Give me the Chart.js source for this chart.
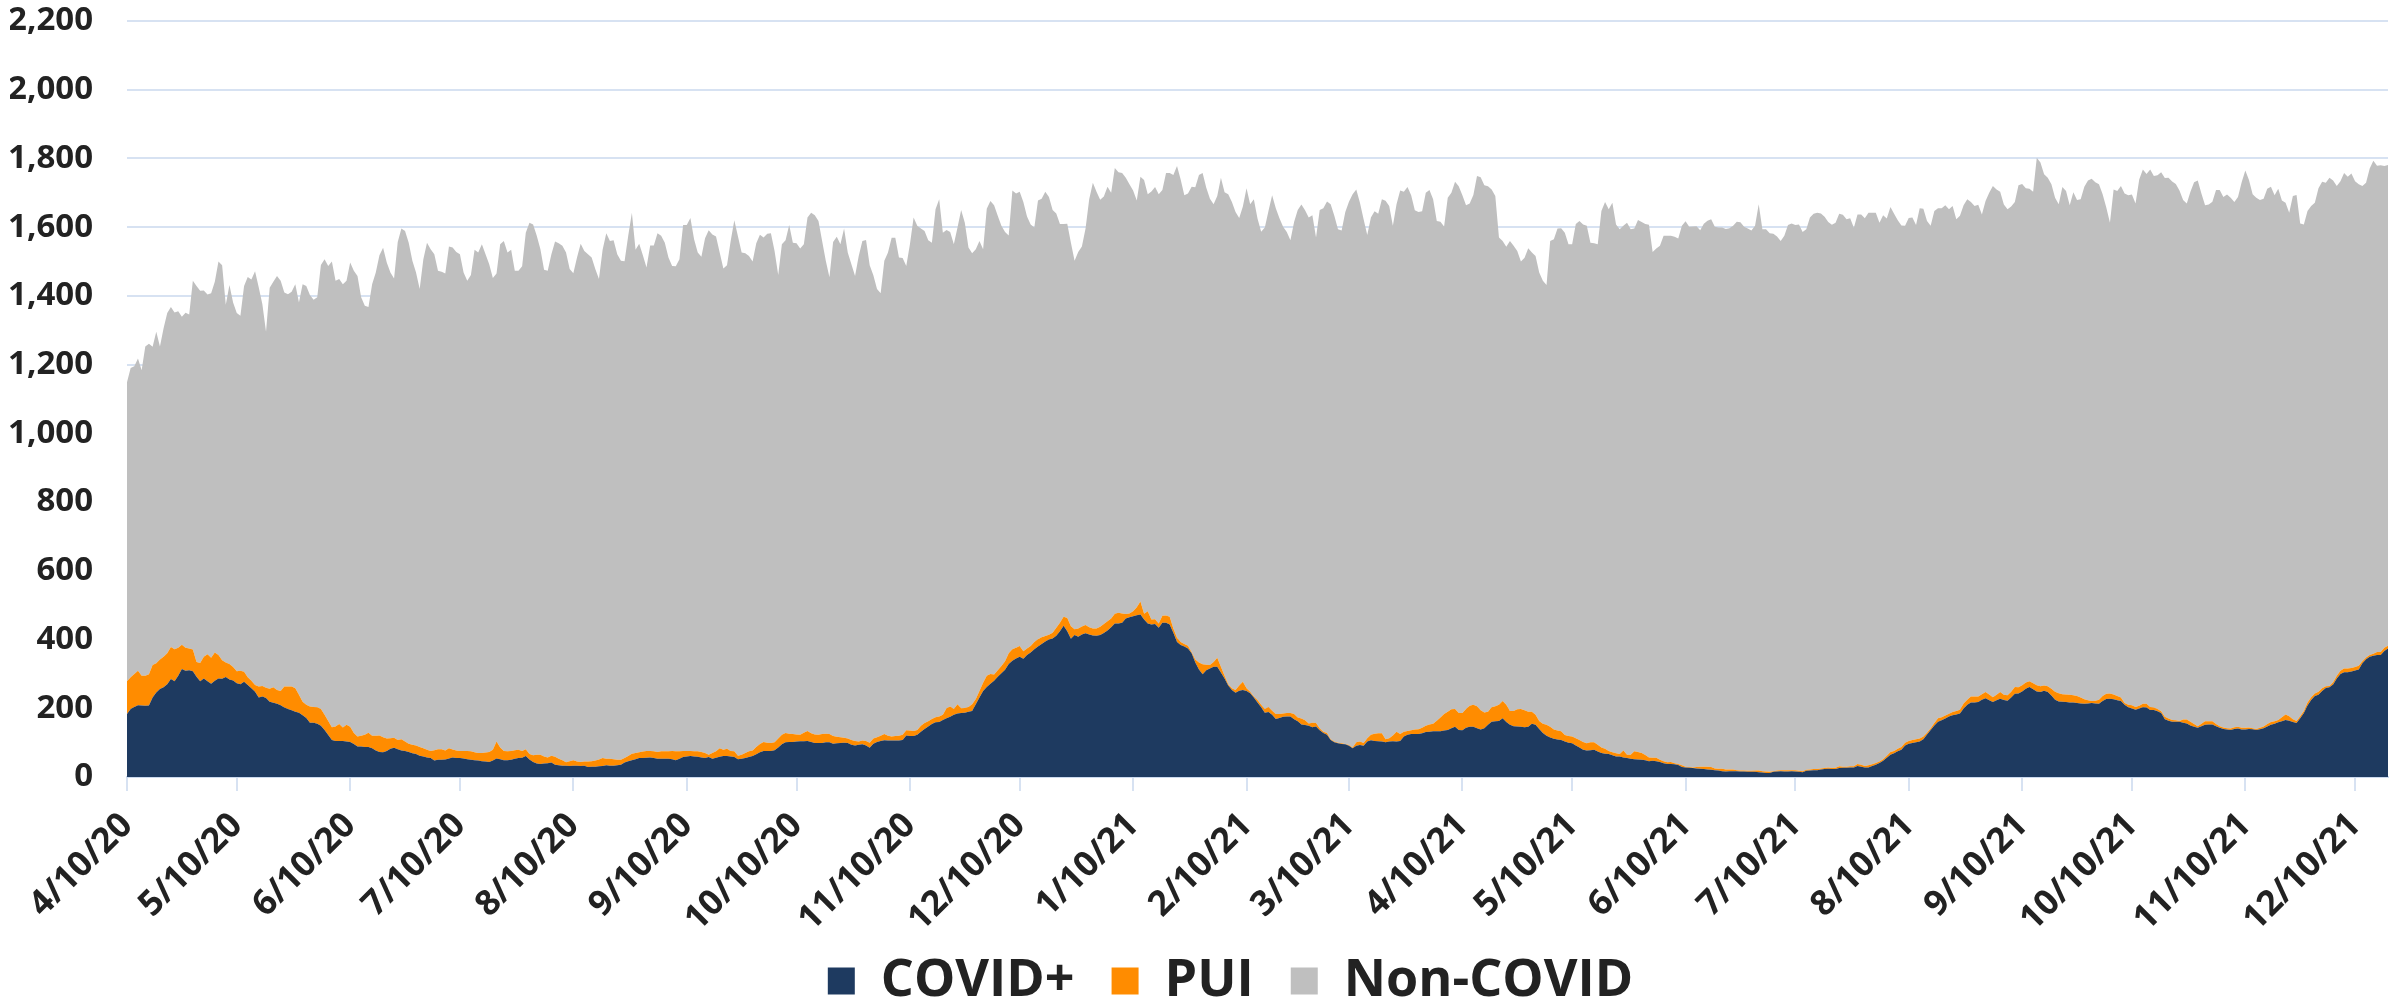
<!DOCTYPE html>
<html>
<head>
<meta charset="utf-8">
<title>Daily census</title>
<script src="https://cdn.jsdelivr.net/npm/chart.js@4.4.1/dist/chart.umd.min.js"></script>
<style>
  html, body { margin: 0; padding: 0; background: #fff; }
  #wrap { width: 2402px; height: 1004px; position: relative; }
</style>
</head>
<body>
<div id="wrap"><canvas id="census"></canvas></div>
<script>
// one value per day, starting 4/10/20
const startDate = '4/10/20';
const tickLabels = ['4/10/20', '5/10/20', '6/10/20', '7/10/20', '8/10/20', '9/10/20', '10/10/20',
    '11/10/20', '12/10/20', '1/10/21', '2/10/21', '3/10/21', '4/10/21', '5/10/21', '6/10/21',
    '7/10/21', '8/10/21', '9/10/21', '10/10/21', '11/10/21', '12/10/21'];

const covid = [
    183,198,204,209,208,207,208,231,246,256,
    261,270,285,279,295,314,309,311,308,292,
    279,287,279,271,280,287,286,291,284,281,
    273,270,277,268,258,248,231,234,230,219,
    216,213,209,202,198,194,190,187,180,172,
    158,158,155,149,137,122,108,105,105,105,
    103,102,96,89,89,87,87,84,77,73,
    72,76,82,85,81,77,76,73,69,67,
    62,60,57,55,48,50,50,51,54,57,
    55,55,54,52,50,49,48,46,45,44,
    48,54,52,49,49,50,53,55,56,61,
    51,44,39,38,39,40,42,36,34,33,
    33,32,33,33,32,33,29,30,30,31,
    32,34,33,33,34,36,42,46,49,52,
    55,55,56,57,55,53,53,53,53,52,
    49,53,58,60,61,60,59,57,55,58,
    53,56,59,61,61,60,58,52,53,55,
    58,61,66,72,76,76,76,78,86,95,
    101,102,102,103,104,104,105,102,99,99,
    99,101,101,97,98,99,100,99,94,92,
    94,95,92,85,97,102,105,107,106,106,
    106,106,108,121,119,119,123,132,140,147,
    154,159,160,166,171,175,181,185,186,187,
    190,192,212,231,250,262,271,280,292,302,
    312,329,338,345,350,344,355,362,372,380,
    387,394,400,403,411,424,440,424,402,413,
    408,415,418,415,412,411,413,419,426,436,
    447,447,449,461,465,468,471,473,458,447,
    444,445,434,449,449,444,420,393,384,380,
    374,360,333,313,299,311,316,321,321,304,
    287,266,253,245,251,253,250,244,231,217,
    203,187,189,181,169,172,175,176,176,168,
    162,153,151,149,145,147,136,128,123,108,
    101,98,96,95,91,84,91,93,91,103,
    107,105,104,103,101,103,104,103,105,118,
    123,125,125,125,127,131,132,133,133,133,
    135,137,142,146,137,136,143,146,146,142,
    138,142,152,161,162,163,171,160,152,148,
    147,146,145,146,155,152,140,128,120,115,
    111,109,108,103,100,98,92,86,79,77,
    78,79,74,70,68,67,63,60,60,57,
    55,53,52,51,50,49,46,47,46,44,
    40,38,38,37,35,29,28,27,26,25,
    24,23,22,21,20,19,17,16,17,17,
    17,16,16,15,15,15,14,13,12,12,
    15,16,17,16,16,17,16,15,14,18,
    19,20,20,22,23,24,23,23,26,27,
    27,28,28,32,30,28,28,32,36,41,
    47,56,65,69,75,79,92,97,99,101,
    103,110,124,137,150,161,165,170,176,180,
    182,185,199,210,217,217,218,225,229,223,
    218,223,228,224,222,231,242,243,249,257,
    262,255,249,247,251,247,237,225,220,219,
    218,217,217,215,214,213,214,215,214,213,
    221,227,228,226,223,221,210,203,199,196,
    199,203,202,195,195,191,186,168,164,161,
    161,161,158,156,150,146,143,148,152,153,
    153,148,143,140,138,137,140,141,138,138,
    140,139,137,139,142,147,152,155,159,162,
    166,164,160,157,171,186,208,224,236,239,
    250,259,261,269,287,300,305,305,307,310,
    313,331,343,350,353,355,355,367,374
];

const pui = [
    96,92,96,100,87,88,91,95,85,86,
    89,90,93,93,81,71,67,63,63,43,
    53,63,78,76,82,68,54,42,45,39,
    35,39,29,22,22,20,32,31,30,38,
    45,40,41,61,65,69,68,52,39,38,
    47,46,48,49,44,41,37,42,49,39,
    49,44,32,29,31,36,42,36,43,48,
    44,36,31,29,27,33,27,24,25,25,
    25,24,22,21,30,31,31,26,30,23,
    22,21,22,24,25,23,22,24,26,29,
    31,49,34,27,26,26,25,24,20,20,
    16,19,26,27,21,17,20,23,19,16,
    10,14,16,12,12,12,16,16,18,20,
    23,19,20,19,16,14,13,15,19,18,
    17,19,20,19,20,20,22,22,22,24,
    26,22,18,16,15,15,16,16,15,7,
    17,19,25,18,21,16,17,10,12,15,
    17,16,21,24,26,24,23,23,26,28,
    27,24,23,21,19,25,29,25,25,24,
    26,25,24,22,19,17,14,13,14,13,
    9,11,13,15,15,14,15,18,14,12,
    13,14,15,15,16,15,14,17,17,15,
    15,15,16,15,29,30,17,27,14,14,
    14,20,15,19,24,33,29,18,19,21,
    25,31,34,31,31,22,19,19,21,21,
    20,16,14,17,23,25,26,39,37,17,
    24,23,24,21,20,21,24,26,27,25,
    28,31,27,13,11,14,23,38,17,35,
    14,14,13,20,21,22,12,12,9,7,
    8,3,9,20,29,16,10,14,26,17,
    8,4,5,8,15,24,8,4,3,7,
    7,11,15,12,14,11,10,10,10,15,
    11,17,14,7,13,10,6,4,5,2,
    2,2,2,1,2,2,10,10,8,10,
    16,21,23,24,9,10,17,29,20,14,
    11,11,13,14,16,18,21,22,31,40,
    48,53,55,52,49,50,55,61,64,64,
    56,46,38,42,44,47,50,50,40,44,
    50,52,49,44,35,29,23,27,32,31,
    27,26,25,19,19,20,21,22,23,21,
    23,22,20,16,14,9,9,9,7,20,
    10,12,23,22,20,15,11,9,10,6,
    6,5,6,3,3,5,2,2,2,4,
    6,7,8,8,5,5,7,6,5,5,
    3,3,3,3,3,4,5,4,4,3,
    2,3,3,4,4,3,4,3,3,3,
    3,3,3,3,3,4,3,4,5,3,
    3,3,3,6,6,4,6,5,5,4,
    5,6,8,7,7,8,8,8,9,9,
    9,8,5,5,7,10,9,9,8,9,
    10,11,15,15,17,17,16,16,18,17,
    14,16,19,15,16,17,20,18,18,18,
    17,18,18,17,15,17,20,23,24,22,
    22,22,21,21,17,13,9,6,8,12,
    15,15,15,14,13,10,5,7,10,8,
    8,10,11,9,7,7,5,7,6,5,
    4,2,9,11,11,8,5,7,10,9,
    9,6,5,4,4,4,5,5,5,5,
    4,3,3,4,5,7,8,7,7,12,
    16,13,8,6,6,6,9,8,7,9,
    8,5,4,7,8,9,11,11,10,10,
    11,6,5,5,6,9,9,9,8
];

const nonCovid = [
    870,900,895,909,889,958,962,926,965,911,
    956,990,990,980,979,954,975,972,1073,1094,
    1083,1066,1047,1061,1079,1145,1149,1041,1103,1061,
    1042,1033,1123,1165,1168,1204,1162,1111,1036,1167,
    1180,1205,1194,1147,1142,1149,1176,1142,1215,1219,
    1198,1185,1193,1292,1326,1324,1355,1297,1295,1290,
    1292,1351,1345,1340,1276,1248,1239,1314,1348,1397,
    1424,1385,1355,1337,1449,1486,1486,1458,1408,1376,
    1333,1423,1476,1460,1443,1392,1389,1388,1460,1461,
    1451,1445,1392,1368,1386,1462,1456,1480,1450,1419,
    1373,1362,1464,1484,1451,1458,1395,1394,1410,1503,
    1546,1545,1510,1471,1416,1416,1459,1499,1500,1497,
    1483,1432,1417,1467,1508,1486,1476,1466,1430,1398,
    1479,1529,1507,1510,1471,1452,1446,1514,1574,1464,
    1480,1444,1407,1471,1472,1509,1500,1480,1437,1411,
    1411,1432,1530,1530,1551,1490,1451,1441,1498,1526,
    1509,1498,1442,1401,1407,1484,1545,1511,1461,1454,
    1441,1423,1466,1482,1468,1481,1483,1430,1349,1427,
    1434,1480,1430,1429,1415,1421,1494,1515,1511,1495,
    1435,1376,1329,1438,1455,1434,1482,1414,1384,1353,
    1413,1454,1458,1389,1348,1304,1288,1377,1406,1451,
    1450,1392,1387,1351,1415,1494,1467,1447,1432,1400,
    1386,1478,1505,1403,1392,1381,1352,1387,1450,1412,
    1337,1312,1309,1310,1262,1359,1376,1366,1322,1281,
    1249,1216,1335,1322,1322,1307,1257,1227,1206,1277,
    1276,1293,1274,1230,1206,1160,1143,1147,1116,1072,
    1096,1106,1154,1245,1297,1271,1243,1244,1265,1239,
    1297,1282,1282,1270,1249,1225,1184,1236,1262,1214,
    1246,1258,1249,1239,1288,1292,1320,1373,1346,1306,
    1316,1355,1374,1419,1430,1388,1357,1332,1344,1423,
    1407,1426,1415,1391,1361,1383,1455,1419,1447,1401,
    1377,1401,1443,1500,1472,1443,1416,1400,1376,1432,
    1477,1496,1484,1472,1477,1413,1508,1523,1547,1557,
    1530,1494,1492,1548,1581,1610,1609,1568,1524,1464,
    1505,1520,1512,1554,1567,1549,1483,1535,1582,1571,
    1583,1557,1511,1505,1503,1551,1555,1526,1454,1443,
    1419,1496,1503,1534,1533,1507,1466,1462,1484,1543,
    1551,1534,1529,1507,1485,1360,1339,1333,1368,1354,
    1334,1302,1317,1349,1336,1335,1305,1289,1280,1414,
    1427,1461,1464,1462,1431,1432,1496,1510,1506,1506,
    1454,1452,1456,1561,1591,1576,1599,1539,1527,1527,
    1548,1529,1521,1548,1545,1545,1550,1472,1482,1496,
    1529,1532,1531,1532,1529,1570,1587,1572,1574,1574,
    1561,1580,1589,1594,1576,1575,1575,1573,1575,1582,
    1596,1595,1582,1578,1572,1585,1648,1577,1578,1567,
    1564,1554,1540,1555,1586,1591,1586,1590,1569,1573,
    1606,1616,1619,1615,1604,1587,1581,1586,1608,1606,
    1593,1595,1567,1599,1601,1594,1608,1605,1601,1568,
    1583,1563,1586,1563,1538,1518,1504,1522,1520,1496,
    1543,1536,1489,1462,1490,1484,1481,1485,1468,1473,
    1431,1437,1450,1456,1439,1428,1431,1396,1429,1460,
    1488,1471,1456,1427,1414,1412,1411,1461,1459,1438,
    1433,1430,1535,1524,1488,1480,1468,1438,1423,1476,
    1465,1425,1464,1443,1450,1492,1513,1520,1509,1500,
    1460,1415,1370,1470,1469,1489,1483,1483,1486,1465,
    1532,1555,1542,1564,1547,1553,1569,1568,1574,1567,
    1561,1544,1512,1502,1542,1577,1588,1543,1502,1504,
    1512,1554,1560,1544,1553,1545,1528,1542,1588,1622,
    1593,1554,1546,1536,1536,1558,1558,1531,1546,1504,
    1489,1465,1523,1531,1434,1416,1430,1430,1428,1465,
    1474,1465,1479,1460,1425,1425,1442,1431,1439,1414,
    1401,1383,1381,1416,1434,1415,1416,1402,1399
];

// days since the first date
function dayOffset(label) {
    const [m, d, y] = label.split('/').map(Number);
    const [m0, d0, y0] = startDate.split('/').map(Number);
    return Math.round((Date.UTC(2000 + y, m - 1, d) - Date.UTC(2000 + y0, m0 - 1, d0)) / 86400000);
}
const tickDays = tickLabels.map(dayOffset);

const toPoints = arr => arr.map((v, i) => ({ x: i, y: v }));

const gridBlue = '#d7e2f2';

const ctx = document.getElementById('census').getContext('2d');
const censusChart = new Chart(ctx, {
    type: 'line',
    data: {
        datasets: [
            { label: 'COVID+', data: toPoints(covid), backgroundColor: '#1e3a60', borderColor: '#1e3a60', fill: 'origin' },
            { label: 'PUI', data: toPoints(pui), backgroundColor: '#ff8c00', borderColor: '#ff8c00', fill: '-1' },
            { label: 'Non-COVID', data: toPoints(nonCovid), backgroundColor: '#bfbfbf', borderColor: '#bfbfbf', fill: '-1' }
        ]
    },
    options: {
        responsive: true,
        maintainAspectRatio: false,
        animation: false,
        layout: { padding: { left: 10, right: 14, top: 21, bottom: -13 } },
        elements: {
            point: { radius: 0 },
            line: { borderWidth: 0, tension: 0 }
        },
        scales: {
            x: {
                type: 'linear',
                min: 0,
                max: covid.length - 1,
                afterBuildTicks: axis => {
                    axis.ticks = tickDays.map(v => ({ value: v }));
                },
                afterFit: axis => {
                    axis.paddingLeft = 0;
                    axis.paddingRight = 0;
                    axis.height = 168;
                },
                ticks: {
                    autoSkip: false,
                    minRotation: 45,
                    maxRotation: 45,
                    padding: 14,
                    color: '#222',
                    font: { family: 'Open Sans', size: 35, weight: 'bold' },
                    callback: v => tickLabels[tickDays.indexOf(v)]
                },
                grid: { drawOnChartArea: false, drawTicks: true, tickLength: 14, color: gridBlue, lineWidth: 2 },
                border: { color: '#cbd9ee', width: 2 }
            },
            y: {
                stacked: true,
                min: 0,
                max: 2200,
                afterFit: axis => {
                    axis.paddingTop = 0;
                    axis.paddingBottom = 0;
                    axis.width = 117;
                },
                ticks: {
                    stepSize: 200,
                    padding: 34,
                    color: '#222',
                    font: { family: 'Open Sans', size: 33, weight: 'bold' }
                },
                grid: { color: gridBlue, lineWidth: 2, drawTicks: false },
                border: { display: false }
            }
        },
        plugins: {
            tooltip: { enabled: false },
            legend: {
                position: 'bottom',
                fullSize: false,
                labels: {
                    boxWidth: 27,
                    boxHeight: 27,
                    padding: 10,
                    color: '#222',
                    font: { family: 'Open Sans', size: 52, weight: 'bold' },
                    generateLabels: chart => {
                        const items = Chart.defaults.plugins.legend.labels.generateLabels(chart);
                        // extra room between entries, and nudge the row a bit left
                        items.forEach((item, i) => {
                            item.text += i < items.length - 1 ? '  ' : '    ';
                        });
                        return items;
                    }
                }
            }
        }
    }
});
</script>
</body>
</html>
